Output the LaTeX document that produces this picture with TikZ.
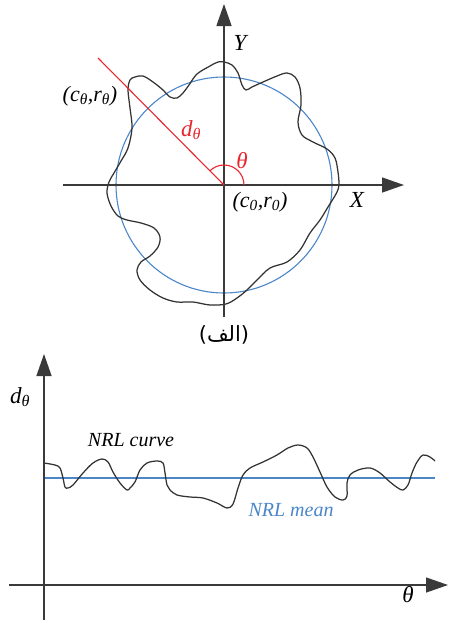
\documentclass[tikz,border=0pt]{standalone}
\usepackage{fontspec}
\setmainfont{Liberation Serif}
\newfontfamily\arabicfont[Script=Arabic]{DejaVu Sans}
\newfontfamily\parenfont{DejaVu Sans}
\TeXXeTstate=1
\usetikzlibrary{arrows.meta}
\definecolor{axisgray}{HTML}{3A3A3A}
\definecolor{curvegray}{HTML}{333333}
\definecolor{meanblue}{HTML}{4A86C8}
\definecolor{radred}{HTML}{E8262D}
\tikzset{
  axisline/.style={draw=axisgray, line width=1.3pt, -{Triangle[length=22pt,width=15pt]}},
  wavy/.style={draw=curvegray, line width=1.25pt, line join=round},
  meanline/.style={draw=meanblue, line width=1.1pt},
  redline/.style={draw=radred, line width=1.1pt},
  lbl/.style={inner sep=0pt, font=\fontsize{23}{26}\selectfont\itshape},
}
\begin{document}
\begin{tikzpicture}[x=1pt,y=-1pt]
\useasboundingbox (0,0) rectangle (448,621);
% ---------- top plot ----------
\coordinate (O) at (224,185);
\coordinate (xl) at (63,185);
\coordinate (xr) at (404,185);
\coordinate (yb) at (224,317);
\coordinate (yt) at (224,4);
\coordinate (P) at (98,58);
\coordinate (A0) at (244,185);
\draw[meanline] (O) circle[radius=108pt];
\draw[wavy] plot[smooth cycle, tension=0.55] coordinates {
 (224,62) (232,65) (238,73) (242,85) (246,90) (252,87) (263,82) (277,76) (287,73)
 (295,77) (300,88) (301,105) (298,122) (302,135) (313,142) (327,149) (335,158)
 (338,172) (339,185) (337,192) (333,199) (328,207) (320,220) (310,233) (300,250)
 (287,262) (270,268) (257,280) (247,290) (237,298) (226,304) (210,305) (193,302)
 (177,302) (163,298) (150,290) (140,280) (137,270) (141,262) (150,256) (158,247)
 (160,237) (154,228) (141,223) (127,220) (118,216) (111,206) (107,193) (109,182)
 (114,173) (121,161) (128,148) (132,128) (130,108) (128,90) (130,80) (135,77)
 (143,76) (153,82) (163,90) (170,97) (177,98) (183,93) (189,85) (197,74) (210,66)
 (218,62)};
\draw[axisline] (xl) -- (xr);
\draw[axisline] (yb) -- (yt);
\draw[redline] (O) -- (P);
\draw[redline] (A0) arc[start angle=0, end angle=135, radius=20pt];
\node[lbl] (Ylab) at (240,43) {Y};
\node[lbl] (Xlab) at (357,200) {X};
\node[lbl, text=radred] (thlab) at (242,161) {θ};
\node[lbl, text=radred] (dlab) at (191,130) {d\textsubscript{θ}};
\node[lbl, font=\fontsize{22}{26}\selectfont\itshape] (c0) at (260,202) {(c\textsubscript{0},r\textsubscript{0})};
\node[lbl, font=\fontsize{22}{26}\selectfont\itshape] (ct) at (90,96) {(c\textsubscript{θ},r\textsubscript{θ})};
% ---------- caption ----------
\node[inner sep=0pt, font=\fontsize{21}{24}\selectfont] (cap) at (224,335)
  {{\parenfont (}{\arabicfont\beginR الف\endR}{\parenfont )}};
% ---------- bottom plot ----------
\coordinate (bxl) at (9,585);
\coordinate (bxr) at (448,585);
\coordinate (byb) at (44,620);
\coordinate (byt) at (44,354);
\coordinate (ml) at (44,478);
\coordinate (mr) at (435,478);
\draw[meanline] (ml) -- (mr);
\draw[wavy] plot[smooth, tension=0.55] coordinates {
 (44,463) (55,465) (60,468) (63,478) (65,487) (68,488) (73,485) (83,473) (93,463)
 (102,459) (108,462) (113,472) (120,483) (127,490) (130,488) (135,482) (140,470)
 (147,463) (157,461) (163,463) (165,473) (167,485) (170,490) (177,495) (190,497)
 (203,498) (217,503) (227,508) (233,504) (238,488) (243,475) (250,468) (263,462)
 (277,455) (288,448) (298,445) (307,448) (313,457) (320,472) (327,487) (335,497)
 (343,500) (347,496) (347,483) (350,475) (358,470) (370,468) (380,473) (390,482)
 (398,488) (403,490) (408,485) (412,473) (417,462) (423,455) (430,457) (435,461)};
\draw[axisline] (bxl) -- (bxr);
\draw[axisline] (byb) -- (byt);
\node[lbl] (dax) at (20,397) {d\textsubscript{θ}};
\node[lbl] (thax) at (408,595) {θ};
\node[lbl, font=\fontsize{20}{24}\selectfont\itshape] (nrlc) at (131,440) {NRL curve};
\node[lbl, font=\fontsize{20}{24}\selectfont\itshape, text=meanblue] (nrlm) at (291,510) {NRL mean};
\end{tikzpicture}
\end{document}
